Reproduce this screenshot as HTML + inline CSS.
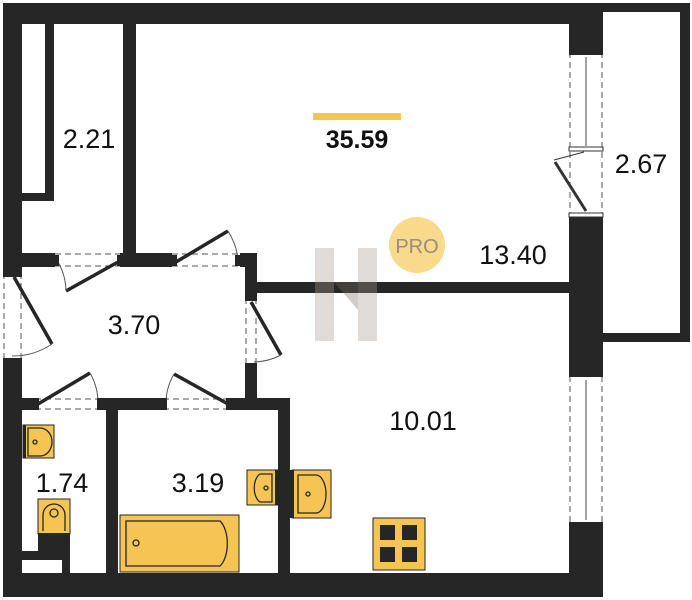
<!DOCTYPE html>
<html><head><meta charset="utf-8"><style>html,body{margin:0;padding:0;background:#fff}svg{display:block}text{font-family:"Liberation Sans",sans-serif}</style></head><body>
<svg width="692" height="600" viewBox="0 0 692 600" xmlns="http://www.w3.org/2000/svg">
<rect width="692" height="600" fill="#fff"/>
<g fill="#262626">
<rect x="3" y="3" width="600" height="21"/>
<rect x="603" y="3" width="87" height="9"/>
<rect x="680" y="3" width="10" height="339"/>
<rect x="603" y="333" width="87" height="9"/>
<rect x="3" y="3" width="19" height="270"/>
<rect x="3" y="358" width="19" height="239"/>
<rect x="3" y="573" width="600" height="24"/>
<rect x="569" y="3" width="34" height="49"/>
<rect x="569" y="217" width="34" height="159"/>
<rect x="569" y="523" width="34" height="74"/>
<rect x="123" y="24" width="13" height="243"/>
<rect x="45" y="24" width="9" height="177"/>
<rect x="22" y="193" width="32" height="8"/>
<rect x="22" y="253" width="33" height="14"/>
<rect x="120" y="253" width="52" height="14"/>
<rect x="240" y="253" width="17" height="14"/>
<rect x="245" y="253" width="12" height="45"/>
<rect x="257" y="282" width="312" height="11"/>
<rect x="245" y="363" width="12" height="47"/>
<rect x="22" y="398" width="13" height="12"/>
<rect x="100" y="398" width="63" height="12"/>
<rect x="231" y="398" width="59" height="12"/>
<rect x="106" y="398" width="12" height="175"/>
<rect x="278" y="398" width="12" height="175"/>
<rect x="22" y="551" width="48" height="9"/>
<rect x="62" y="551" width="8" height="22"/>
</g>
<g stroke="#555" stroke-width="1" stroke-dasharray="6,4" fill="none">
<line x1="55" y1="254" x2="120" y2="254"/><line x1="55" y1="266" x2="120" y2="266"/>
<line x1="172" y1="254" x2="240" y2="254"/><line x1="172" y1="266" x2="240" y2="266"/>
<line x1="4" y1="273" x2="4" y2="358"/><line x1="21" y1="273" x2="21" y2="358"/>
<line x1="246" y1="298" x2="246" y2="363"/><line x1="256" y1="298" x2="256" y2="363"/>
<line x1="35" y1="399" x2="100" y2="399"/><line x1="35" y1="409" x2="100" y2="409"/>
<line x1="163" y1="399" x2="231" y2="399"/><line x1="163" y1="409" x2="231" y2="409"/>
<line x1="570" y1="52" x2="570" y2="217"/><line x1="602" y1="52" x2="602" y2="217"/>
<line x1="570" y1="376" x2="570" y2="523"/><line x1="602" y1="376" x2="602" y2="523"/>
</g>
<g stroke="#262626" stroke-width="3.5" fill="none">
<line x1="118" y1="262" x2="66" y2="291"/>
<line x1="176" y1="262" x2="228" y2="231"/>
<line x1="14" y1="277" x2="52" y2="344"/>
<line x1="251" y1="302" x2="281" y2="355"/>
<line x1="38" y1="404" x2="90" y2="373"/>
<line x1="228" y1="404" x2="174" y2="374"/>
</g>
<g stroke="#555" stroke-width="1" fill="none">
<path d="M66 291 A60 60 0 0 0 58 262"/>
<path d="M228 231 A70 70 0 0 1 238 258"/>
<path d="M52 344 A70 70 0 0 1 12 356"/>
<path d="M281 355 A60 60 0 0 1 254 362"/>
<path d="M90 373 A60 60 0 0 1 98 400"/>
<path d="M174 374 A60 60 0 0 0 166 400"/>
</g>
<g fill="#262626">
<rect x="53" y="255" width="6" height="11"/><rect x="117" y="255" width="6" height="11"/>
<rect x="171" y="255" width="6" height="11"/><rect x="235" y="255" width="6" height="11"/>
<rect x="3" y="272" width="19" height="5"/><rect x="245" y="296" width="12" height="5"/>
<rect x="33" y="398" width="6" height="12"/><rect x="97" y="398" width="6" height="12"/>
<rect x="161" y="398" width="6" height="12"/><rect x="226" y="398" width="6" height="12"/>
<rect x="569" y="50" width="34" height="5"/><rect x="569" y="373" width="34" height="4"/><rect x="569" y="522" width="34" height="4"/>
</g>
<line x1="586" y1="57" x2="586" y2="146" stroke="#444" stroke-width="1"/>
<rect x="569" y="147" width="34" height="4" fill="#fff" stroke="#333"/>
<rect x="569" y="213" width="34" height="4" fill="#fff" stroke="#333"/>
<path d="M554 160 L584 152" stroke="#333" fill="none"/>
<line x1="555" y1="162" x2="586" y2="211" stroke="#333" stroke-width="3"/>
<line x1="586" y1="380" x2="586" y2="520" stroke="#444" stroke-width="1"/>
<g opacity="0.35">
<rect x="315" y="248" width="19" height="93" fill="#a59b91"/>
<rect x="358" y="248" width="19" height="93" fill="#a59b91"/>
<polygon points="334,282 358,282 358,310" fill="#7a6e63"/>
</g>
<g fill="#f6c453" stroke="#262626" stroke-width="1">
<rect x="23" y="425" width="31" height="33"/>
<rect x="38" y="499" width="32" height="35"/>
<rect x="120" y="515" width="119" height="57"/>
<rect x="247" y="470" width="31" height="35"/>
<rect x="292" y="470" width="39" height="48"/>
<rect x="373" y="518" width="52" height="52"/>
</g>
<rect x="23" y="425" width="3" height="33" fill="#262626"/>
<rect x="38" y="533" width="32" height="18" fill="#262626"/>
<rect x="275" y="470" width="3" height="35" fill="#262626"/>
<rect x="290" y="470" width="4" height="48" fill="#262626"/>
<g fill="none" stroke="#262626" stroke-width="1.3">
<path d="M28 428 H40 A12 14 0 0 1 40 456 H28 Z"/><circle cx="35" cy="442" r="2"/>
<path d="M43 531 V515 A11 11 0 0 1 65 515 V531"/><circle cx="54" cy="513" r="4"/>
<path d="M126 521 H220 A13 25 0 0 1 220 566 H126 Z"/><circle cx="136" cy="543" r="3"/>
<path d="M272 474 H260 A9 15 0 0 0 260 502 H272 Z"/><circle cx="266" cy="488" r="2"/>
<path d="M298 475 H316 A10 19 0 0 1 316 513 H298 Z"/><circle cx="308" cy="494" r="2"/>
</g>
<g fill="#262626">
<rect x="380" y="525" width="15" height="15"/><rect x="402" y="525" width="15" height="15"/>
<rect x="380" y="547" width="15" height="15"/><rect x="402" y="547" width="15" height="15"/>
</g>
<rect x="313" y="113" width="88" height="7" fill="#f6c453"/>
<circle cx="417" cy="245" r="28" fill="#f9d98c"/>
<text x="417" y="253" font-size="20" fill="#9a8d7a" text-anchor="middle">PRO</text>
<g font-size="27" fill="#111" text-anchor="middle">
<text x="357" y="148" font-weight="bold" font-size="25">35.59</text>
<text x="89" y="148">2.21</text>
<text x="641" y="173">2.67</text>
<text x="513" y="264">13.40</text>
<text x="134" y="334">3.70</text>
<text x="423" y="430">10.01</text>
<text x="62" y="492">1.74</text>
<text x="198" y="492">3.19</text>
</g>
</svg>
</body></html>
